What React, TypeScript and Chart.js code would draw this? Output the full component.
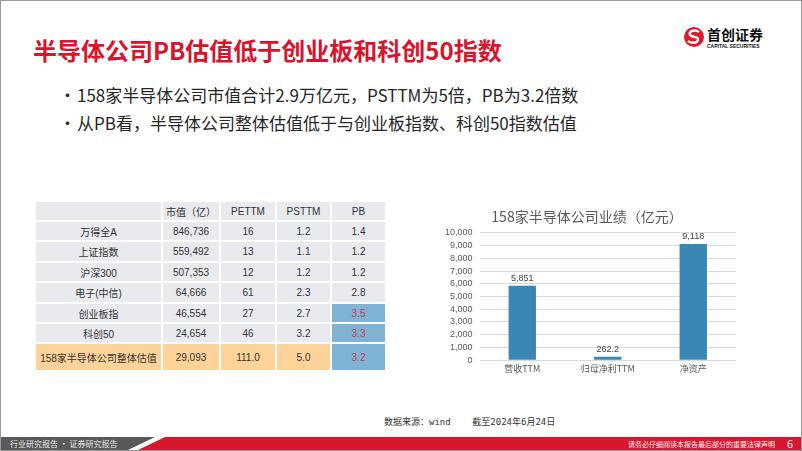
import React, { useEffect, useRef } from "react";
import { Chart, registerables } from "chart.js";

Chart.register(...registerables);

const slideTitle = "半导体公司PB估值低于创业板和科创50指数";
const bullets = [
  "158家半导体公司市值合计2.9万亿元，PSTTM为5倍，PB为3.2倍数",
  "从PB看，半导体公司整体估值低于与创业板指数、科创50指数估值",
];

const tableHeader = ["", "市值（亿）", "PETTM", "PSTTM", "PB"];
const tableNames = ["万得全A", "上证指数", "沪深300", "电子(中信)", "创业板指", "科创50", "158家半导体公司整体估值"];
const tableCap = ["846,736", "559,492", "507,353", "64,666", "46,554", "24,654", "29,093"];
const tablePE = ["16", "13", "12", "61", "27", "46", "111.0"];
const tablePS = ["1.2", "1.1", "1.2", "2.3", "2.7", "3.2", "5.0"];
const tablePB = ["1.4", "1.2", "1.2", "2.8", "3.5", "3.3", "3.2"];
const pbHighlight = [false, false, false, false, true, true, true];

const chartTitle = "158家半导体公司业绩（亿元）";
const categories = ["营收TTM", "归母净利TTM", "净资产"];
const values = [5851, 262.2, 9118];

const source = "数据来源：wind    截至2024年6月24日";
const footerLeft = "行业研究报告 · 证券研究报告";
const footerRight = "请务必仔细阅读本报告最后部分的重要法律声明";
const pageNo = "6";

const colW = [127, 58, 56, 55, 55];
const rowH = [20, 20, 21, 20, 21, 20, 20, 28];

function BarChart() {
  const ref = useRef<HTMLCanvasElement | null>(null);
  useEffect(() => {
    if (!ref.current) return;
    const labelPlugin = {
      id: "barLabels",
      afterDatasetsDraw(chart: any) {
        const ctx = chart.ctx;
        const meta = chart.getDatasetMeta(0);
        ctx.save();
        ctx.font = "9px 'Liberation Sans', sans-serif";
        ctx.fillStyle = "#404040";
        ctx.textAlign = "center";
        ctx.textBaseline = "bottom";
        meta.data.forEach((el: any, i: number) => {
          const v = values[i];
          const txt = v.toLocaleString("en-US", { maximumFractionDigits: 1 });
          ctx.fillText(txt, el.x, el.y - 3);
        });
        ctx.restore();
      },
    };
    const chart = new Chart(ref.current, {
      type: "bar",
      data: {
        labels: categories,
        datasets: [
          {
            data: values,
            backgroundColor: "#3a86b4",
            barPercentage: 0.32,
            categoryPercentage: 1,
          },
        ],
      },
      options: {
        responsive: false,
        animation: false,
        layout: { padding: { left: 17, right: 25, top: 4, bottom: 9 } },
        plugins: {
          legend: { display: false },
          tooltip: { enabled: false },
          title: {
            display: true,
            text: chartTitle,
            color: "#595959",
            font: { size: 14, family: "'Noto Sans CJK SC', sans-serif", weight: "normal" },
            padding: { top: 8, bottom: 8 },
          },
        },
        scales: {
          y: {
            min: 0,
            max: 10000,
            ticks: {
              stepSize: 1000,
              autoSkip: false,
              color: "#595959",
              font: { size: 9, family: "'Liberation Sans', sans-serif" },
              padding: 7,
              callback: (v: any) => Number(v).toLocaleString("en-US"),
            },
            grid: { color: "#d9d9d9", drawTicks: false },
            border: { display: false },
          },
          x: {
            ticks: {
              color: "#595959",
              font: { size: 9, family: "'Noto Sans CJK SC', sans-serif" },
              padding: 3,
            },
            grid: { display: false, drawTicks: false },
            border: { display: false },
          },
        },
      },
      plugins: [labelPlugin],
    } as any);
    return () => chart.destroy();
  }, []);
  return (
    <canvas
      ref={ref}
      width={340}
      height={190}
      style={{ position: "absolute", left: 420, top: 195, width: 340, height: 190 }}
    />
  );
}

function DataTable() {
  const rows = [tableHeader].concat(
    tableNames.map((n, i) => [n, tableCap[i], tablePE[i], tablePS[i], tablePB[i]])
  );
  const cells: any[] = [];
  let y = 0;
  rows.forEach((r, ri) => {
    let x = 0;
    r.forEach((c, ci) => {
      const isLast = ri === rows.length - 1;
      const pbHi = ri > 0 && ci === 4 && pbHighlight[ri - 1];
      let bg = "#e8eaee";
      if (isLast) bg = "#fdd39a";
      if (pbHi) bg = "#7fb3d3";
      cells.push(
        <div
          key={ri + "-" + ci}
          style={{
            position: "absolute",
            left: x,
            top: y,
            width: colW[ci] - 2,
            height: rowH[ri] - 2,
            background: bg,
            display: "flex",
            alignItems: "center",
            justifyContent: "center",
            fontSize: 10,
            color: pbHi ? "#c33a5c" : "#333",
            whiteSpace: "nowrap",
          }}
        >
          {c}
        </div>
      );
      x += colW[ci];
    });
    y += rowH[ri];
  });
  return (
    <div
      style={{
        position: "absolute",
        left: 35,
        top: 201,
        width: 352,
        height: 172,
        fontFamily: "'Liberation Sans', 'Noto Sans CJK SC', sans-serif",
      }}
    >
      {cells}
    </div>
  );
}

export default function App() {
  return (
    <div
      style={{
        position: "fixed",
        left: 0,
        top: 0,
        width: 802,
        height: 451,
        background: "#fff",
        boxSizing: "border-box",
        border: "1px solid #9a9a9a",
        overflow: "hidden",
        fontFamily: "'Noto Sans CJK SC', sans-serif",
      }}
    >
      <div
        style={{
          position: "absolute",
          left: 32,
          top: 34,
          fontSize: 24,
          fontWeight: 700,
          color: "#d7142c",
          whiteSpace: "nowrap",
          lineHeight: "30px",
        }}
      >
        {slideTitle}
      </div>

      {/* logo */}
      <div style={{ position: "absolute", left: 682, top: 25 }}>
        <svg width={22} height={22} viewBox="0 0 22 22" style={{ position: "absolute", left: 0, top: 0 }}>
          <circle cx={11} cy={11} r={10} fill="#e0182c" />
          <path d="M16 6 C 12 3, 5 5, 7 9 C 9 12, 16 10, 15 14 C 14 18, 7 17, 5 15" stroke="#fff" strokeWidth={2.4} fill="none" />
        </svg>
        <div style={{ position: "absolute", left: 24, top: 0, fontSize: 14, fontWeight: 700, color: "#111", whiteSpace: "nowrap", lineHeight: "16px" }}>
          首创证券
        </div>
        <div style={{ position: "absolute", left: 24, top: 17, fontSize: 5, fontWeight: 700, color: "#111", whiteSpace: "nowrap", lineHeight: "6px", fontFamily: "'Liberation Sans', sans-serif" }}>
          CAPITAL SECURITIES
        </div>
      </div>

      {bullets.map((b, i) => (
        <div
          key={i}
          style={{
            position: "absolute",
            left: 58,
            top: 83 + i * 28,
            fontSize: 17,
            lineHeight: "22px",
            color: "#262626",
            whiteSpace: "nowrap",
          }}
        >
          <span style={{ display: "inline-block", width: 18 }}>•</span>
          {b}
        </div>
      ))}

      <DataTable />
      <BarChart />

      <div
        style={{
          position: "absolute",
          left: 383,
          top: 414,
          fontSize: 9,
          lineHeight: "14px",
          color: "#333",
          whiteSpace: "pre",
          fontFamily: "'DejaVu Sans Mono', 'Noto Sans CJK SC', monospace",
        }}
      >
        {source}
      </div>

      <svg width={802} height={14} style={{ position: "absolute", left: -1, top: 436 }}>
        <polygon points="0,0 155,0 126,14 0,14" fill="#595959" />
        <polygon points="165,0 802,0 802,14 136,14" fill="#d7172f" />
      </svg>
      <div style={{ position: "absolute", left: 9, top: 437, fontSize: 8, lineHeight: "12px", color: "#e8e8e8", whiteSpace: "nowrap" }}>
        {footerLeft}
      </div>
      <div style={{ position: "absolute", left: 627, top: 437, fontSize: 7, lineHeight: "12px", color: "#f3f3f3", whiteSpace: "nowrap" }}>
        {footerRight}
      </div>
      <div style={{ position: "absolute", left: 786, top: 435, fontSize: 11, lineHeight: "14px", color: "#f3f3f3" }}>
        {pageNo}
      </div>
    </div>
  );
}
